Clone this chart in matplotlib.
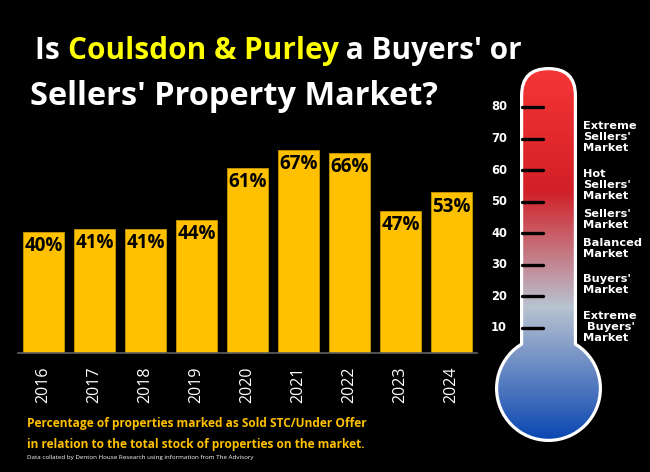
import numpy as np
import matplotlib
matplotlib.use("Agg")
import matplotlib.pyplot as plt
from matplotlib.patches import FancyBboxPatch, Circle
from matplotlib.colors import LinearSegmentedColormap

W, H = 650, 472

years = ["2016", "2017", "2018", "2019", "2020", "2021", "2022", "2023", "2024"]
sold_pct = [40, 41, 41, 44, 61, 67, 66, 47, 53]

scale_ticks = [10, 20, 30, 40, 50, 60, 70, 80]
zone_labels = ["Extreme\nSellers'\nMarket", "Hot\nSellers'\nMarket", "Sellers'\nMarket",
               "Balanced\nMarket", "Buyers'\nMarket", "Extreme\n Buyers'\nMarket"]
zone_levels = [70.5, 55.2, 44.4, 35.2, 23.8, 10.2]

title_runs = [("Is ", "white"), ("Coulsdon & Purley", "#FFFF00"), (" a Buyers' or", "white")]
title_line2 = "Sellers' Property Market?"
note_lines = ["Percentage of properties marked as Sold STC/Under Offer",
              "in relation to the total stock of properties on the market."]
source = "Data collated by Denton House Research using information from The Advisory"

BAR = "#FFC000"
FONT = "Open Sans"

fig = plt.figure(figsize=(W / 100, H / 100), dpi=100, facecolor="black")
bg = fig.add_axes([0, 0, 1, 1])
bg.set_xlim(0, W)
bg.set_ylim(H, 0)
bg.axis("off")
bg.set_facecolor("black")

# ---- bar chart ----
base_y, top_y = 353, 141
ax = fig.add_axes([18 / W, (H - base_y) / H, (477 - 18) / W, (base_y - top_y) / H])
ax.set_facecolor("none")
x = np.arange(len(years))
bars = ax.bar(x, sold_pct, width=0.8, color=BAR, edgecolor="#C89600", linewidth=0.6)
for b, v in zip(bars, sold_pct):
    ax.annotate(f"{v}%", (b.get_x() + b.get_width() / 2, v), xytext=(0, -3),
                textcoords="offset points", ha="center", va="top",
                fontsize=13.5, fontweight="bold", family=FONT, color="black")
ax.set_xlim(-0.5, len(years) - 0.5)
ax.set_ylim(0, 70)
ax.set_xticks(x, years, rotation=90, fontsize=11.5, family=FONT, color="white")
ax.tick_params(axis="x", length=0, pad=10)
ax.set_yticks([])
for s in ["top", "left", "right"]:
    ax.spines[s].set_visible(False)
ax.spines["bottom"].set_color("#606060")
ax.spines["bottom"].set_linewidth(1.2)

# ---- text helpers ----
fig.canvas.draw()
renderer = fig.canvas.get_renderer()


def text_width(s, **kw):
    t = bg.text(0, 0, "|" + s + "|", **kw)
    w1 = t.get_window_extent(renderer).width
    t.remove()
    t = bg.text(0, 0, "||", **kw)
    w0 = t.get_window_extent(renderer).width
    t.remove()
    return w1 - w0


def fit_size(s, target, **kw):
    return 20 * target / text_width(s, fontsize=20, **kw)


def draw_runs(x0, y, runs, **kw):
    xx = x0
    for s, c in runs:
        bg.text(xx, y, s, color=c, ha="left", va="baseline", **kw)
        xx += text_width(s, **kw)


tkw = dict(family=FONT, fontweight="bold")
line1 = "".join(s for s, _ in title_runs)
s1 = fit_size(line1, 485, **tkw)
draw_runs(35, 59, title_runs, fontsize=s1, **tkw)
s2 = fit_size(title_line2, 407, **tkw)
bg.text(30, 105, title_line2, color="white", fontsize=s2, ha="left", va="baseline", **tkw)

sn = fit_size(note_lines[0], 339, **tkw)
bg.text(27, 427, note_lines[0], color=BAR, fontsize=sn, ha="left", va="baseline", **tkw)
bg.text(27, 448, note_lines[1], color=BAR, fontsize=sn, ha="left", va="baseline", **tkw)
ss = fit_size(source, 225, family=FONT)
bg.text(27, 459, source, color="white", fontsize=ss, ha="left", va="baseline", family=FONT)

# ---- thermometer ----
cx = 548.5
tube_l, tube_r, tube_top = 520, 577, 67
bulb_cy, bulb_r = 388.5, 53.5
border = 3.2


def level_y(v):
    return 107 + (80 - v) * 3.155


outer_tube = FancyBboxPatch((tube_l, tube_top), tube_r - tube_l, bulb_cy - tube_top,
                            boxstyle=f"round,pad=0,rounding_size={(tube_r - tube_l) / 2}",
                            fc="white", ec="none")
outer_bulb = Circle((cx, bulb_cy), bulb_r, fc="white", ec="none")
bg.add_patch(outer_tube)
bg.add_patch(outer_bulb)

il, ir, it = tube_l + border, tube_r - border, tube_top + border
inner_tube = FancyBboxPatch((il, it), ir - il, bulb_cy - it,
                            boxstyle=f"round,pad=0,rounding_size={(ir - il) / 2}",
                            fc="none", ec="none")
inner_bulb = Circle((cx, bulb_cy), bulb_r - border, fc="none", ec="none")
bg.add_patch(inner_tube)
bg.add_patch(inner_bulb)

stops = [(0.0, "#F63636"), (0.33, "#D22027"), (0.64, "#B9C3D1"), (1.0, "#0845B2")]
cmap = LinearSegmentedColormap.from_list("thermo", stops)
grad = np.linspace(0, 1, 400).reshape(-1, 1)
g_top, g_bot = 67, 442
for clip in (inner_tube, inner_bulb):
    im = bg.imshow(grad, cmap=cmap, aspect="auto", extent=(tube_l - 40, tube_r + 40, g_bot, g_top),
                   interpolation="bilinear", zorder=2)
    im.set_clip_path(clip)
bg.set_xlim(0, W)
bg.set_ylim(H, 0)

for v in scale_ticks:
    y = level_y(v)
    bg.plot([522, 543], [y, y], color="black", lw=2.4, solid_capstyle="round", zorder=3)
    bg.text(499, y, str(v), color="white", fontsize=8.3, fontweight="bold",
            family="DejaVu Sans", ha="center", va="center", zorder=3)

for lab, v in zip(zone_labels, zone_levels):
    bg.text(583, level_y(v), lab, color="white", fontsize=8.2, fontweight="bold",
            family="DejaVu Sans", ha="left", va="center", linespacing=1.12, zorder=3)

fig.savefig("out.png", dpi=100, facecolor="black")
